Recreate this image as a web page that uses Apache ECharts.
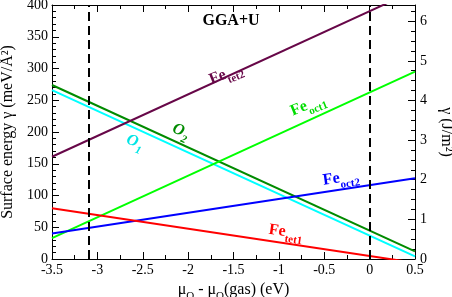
<!DOCTYPE html>
<html>
<head>
<meta charset="utf-8">
<script src="https://cdn.jsdelivr.net/npm/echarts@6/dist/echarts.min.js"></script>
<style>html,body{margin:0;padding:0;background:#fff}#c{width:452px;height:297px}</style>
</head>
<body>
<div id="c"></div>
<script>
// x range (mu_O - mu_O(gas), eV): line end points
var xEnds = [-3.5, 0.5];
// surface energies (meV/Å^2) at the end points
var O2 = [274, 12];
var O1 = [266, 4];
var FeTet2 = [161, 423];
var FeOct1 = [33, 295];
var FeOct2 = [40, 127];
var FeTet1 = [80, -6];
// dashed vertical reference lines (eV)
var dashX = [-3.1, 0];
// axis tick labels
var xTicks = [-3.5, -3, -2.5, -2, -1.5, -1, -0.5, 0, 0.5];
var yTicks = [0, 50, 100, 150, 200, 250, 300, 350, 400];
var yRightTicks = [0, 1, 2, 3, 4, 5, 6];
var meVperA2_to_Jm2 = 0.0160218;

function pts(v) { return xEnds.map(function (x, i) { return [x, v[i]]; }); }

var serif = 'Liberation Serif, Times New Roman, serif';
var chart = echarts.init(document.getElementById('c'), null, {renderer: 'canvas'});

function mkSeries(name, vals, color) {
  return {name: name, type: 'line', data: pts(vals), symbol: 'none', clip: true,
    lineStyle: {color: color, width: 2}, silent: true};
}
var series = [
  mkSeries('O2', O2, '#008b00'),
  mkSeries('O1', O1, '#00ffff'),
  mkSeries('FeTet2', FeTet2, '#670748'),
  mkSeries('FeOct1', FeOct1, '#00ff00'),
  mkSeries('FeOct2', FeOct2, '#0000ff'),
  mkSeries('FeTet1', FeTet1, '#ff0000')
];
series.push({type: 'line', data: [], markLine: {silent: true, symbol: 'none',
  lineStyle: {color: '#000', width: 2, type: [9, 5]}, label: {show: false},
  data: dashX.map(function (x) { return {xAxis: x}; })}});

var tickStyle = {inside: true, length: 7, lineStyle: {color: '#000', width: 1}};
var minorStyle = {show: true, length: 4, lineStyle: {color: '#000', width: 1}};
var labStyle = {color: '#000', fontFamily: serif, fontSize: 14};

chart.setOption({
  animation: false,
  backgroundColor: '#fff',
  grid: {left: 52, right: 37, top: 5, bottom: 38, show: false, containLabel: false, outerBoundsMode: 'none'},
  xAxis: [{
    type: 'value', min: xTicks[0], max: xTicks[xTicks.length - 1], interval: 0.5,
    position: 'bottom',
    axisLine: {lineStyle: {color: '#000', width: 1}, onZero: false},
    axisTick: tickStyle, minorTick: Object.assign({splitNumber: 2}, minorStyle),
    splitLine: {show: false},
    axisLabel: Object.assign({margin: 4}, labStyle),
    name: '{n|μ}{s|O}{n| - μ}{s|O}{n|(gas) (eV)}', nameLocation: 'middle', nameGap: 19,
    nameTextStyle: {rich: {
      n: {fontFamily: serif, fontSize: 16, color: '#000'},
      s: {fontFamily: serif, fontSize: 11, color: '#000', verticalAlign: 'bottom', padding: [12, 0, 0, 0]}
    }}
  }, {
    type: 'value', min: xTicks[0], max: xTicks[xTicks.length - 1], interval: 0.5,
    position: 'top',
    axisLine: {lineStyle: {color: '#000', width: 1}, onZero: false},
    axisTick: tickStyle, minorTick: Object.assign({splitNumber: 2}, minorStyle),
    splitLine: {show: false}, axisLabel: {show: false}
  }],
  yAxis: [{
    type: 'value', min: yTicks[0], max: yTicks[yTicks.length - 1], interval: 50,
    position: 'left',
    axisLine: {show: true, lineStyle: {color: '#000', width: 1}, onZero: false},
    axisTick: tickStyle, minorTick: Object.assign({splitNumber: 5}, minorStyle),
    splitLine: {show: false},
    axisLabel: Object.assign({margin: 4}, labStyle),
    name: 'Surface energy γ (meV/Å²)', nameLocation: 'middle', nameGap: 29,
    nameTextStyle: {fontFamily: serif, fontSize: 16, color: '#000'}
  }, {
    type: 'value', min: 0, max: yTicks[yTicks.length - 1] * meVperA2_to_Jm2, interval: 1,
    position: 'right',
    axisLine: {show: true, lineStyle: {color: '#000', width: 1}, onZero: false},
    axisTick: tickStyle, minorTick: Object.assign({splitNumber: 4}, minorStyle),
    splitLine: {show: false},
    axisLabel: Object.assign({margin: 5, showMaxLabel: false,
      formatter: function (v) { return yRightTicks.indexOf(v) >= 0 ? String(v) : ''; }}, labStyle),
    name: 'γ (J/m²)', nameLocation: 'middle', nameGap: 17, nameRotate: -90,
    nameTextStyle: {fontFamily: serif, fontSize: 16, color: '#000'}
  }],
  series: series,
  graphic: []
});

function lab(main, sub, color, x, y, rotDeg, italic) {
  var st = italic ? 'italic' : 'normal';
  return {type: 'text', x: x, y: y, rotation: rotDeg * Math.PI / 180, silent: true, z: 100,
    style: {text: '{a|' + main + '}{b|' + sub + '}', align: 'center', verticalAlign: 'middle',
      fill: color,
      rich: {
        a: {fill: color, fontFamily: serif, fontSize: 16, fontWeight: 'bold', fontStyle: st},
        b: {fill: color, fontFamily: serif, fontSize: 11, fontWeight: 'bold', fontStyle: st,
            verticalAlign: 'bottom', padding: [14, 0, 0, 0]}
      }}};
}
chart.setOption({graphic: [
  {type: 'text', x: 231, y: 21, silent: true, style: {text: 'GGA+U', align: 'center', verticalAlign: 'middle',
    fill: '#000', fontFamily: serif, fontSize: 16, fontWeight: 'bold'}},
  lab('Fe', 'tet2', '#670748', 226, 74, 22, false),
  lab('Fe', 'oct1', '#00dd00', 308, 105, 22, false),
  lab('O', '2', '#008b00', 181, 131, -22, true),
  lab('O', '1', '#00e5e5', 135, 142, -20, true),
  lab('Fe', 'oct2', '#0000ff', 341, 178, 8, false),
  lab('Fe', 'tet1', '#ff0000', 286, 232, -8, false)
]});
</script>
</body>
</html>
